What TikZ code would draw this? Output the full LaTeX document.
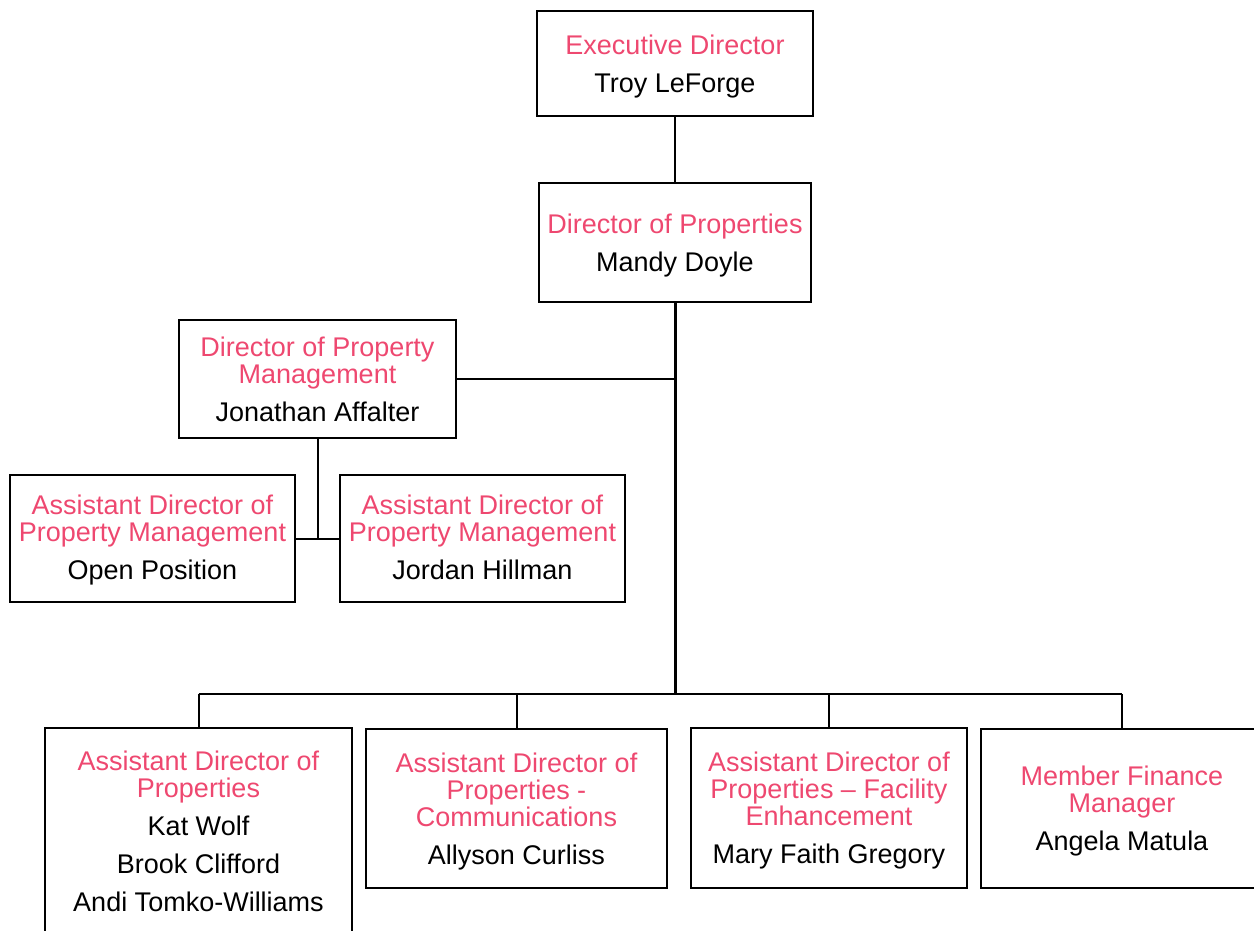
\documentclass[tikz,border=0pt]{standalone}
\usepackage{fontspec}
\setmainfont{Liberation Sans}
\definecolor{tpink}{RGB}{238,72,112}
\newcommand\rolett[1]{\textcolor{tpink}{#1}}
\newcommand\tstrut{\rule{0pt}{25.5pt}}
\newcommand\sstrut{\rule{0pt}{23pt}}
\newcommand\dstrut{\rule[-6pt]{0pt}{6pt}}
\begin{document}
\begin{tikzpicture}[x=1pt,y=-1pt,
  box/.style={draw, line width=2.4pt, inner sep=0pt, align=center,
    font=\fontsize{27}{27}\selectfont, text=black},
  conn/.style={line width=2pt},
  trunk/.style={line width=3pt}]
\useasboundingbox (0,0) rectangle (1254,931);
\node[box, minimum width=276, minimum height=105] (exec) at (675,63.5)
  {\tstrut\rolett{Executive Director}\\[11pt]Troy LeForge};
\node[box, minimum width=272, minimum height=119] (dprop) at (675,242.5)
  {\tstrut\rolett{Director of Properties}\\[11pt]Mandy Doyle};
\node[box, minimum width=277, minimum height=118] (dpm) at (317.5,379)
  {\rolett{Director of Property}\\\rolett{Management}\\[11pt]Jonathan Affalter};
\node[box, minimum width=285, minimum height=127] (apm1) at (152.5,538.5)
  {\sstrut\rolett{Assistant Director of}\\\rolett{Property Management}\\[11pt]Open Position\dstrut};
\node[box, minimum width=285, minimum height=127] (apm2) at (482.5,538.5)
  {\sstrut\rolett{Assistant Director of}\\\rolett{Property Management}\\[11pt]Jordan Hillman\dstrut};
\node[box, minimum width=307, minimum height=206] (b1) at (198.5,831)
  {\rolett{Assistant Director of}\\\rolett{Properties}\\[11pt]Kat Wolf\\[11pt]Brook Clifford\\[11pt]Andi Tomko-Williams};
\node[box, minimum width=301, minimum height=159] (b2) at (516.5,808.5)
  {\tstrut\rolett{Assistant Director of}\\\rolett{Properties -}\\\rolett{Communications}\\[11pt]Allyson Curliss};
\node[box, minimum width=276, minimum height=160] (b3) at (829,808)
  {\tstrut\rolett{Assistant Director of}\\\rolett{Properties -- Facility}\\\rolett{Enhancement}\\[11pt]Mary Faith Gregory};
\node[box, minimum width=282, minimum height=159] (b4) at (1122,808.5)
  {\tstrut\rolett{Member Finance}\\\rolett{Manager}\\[11pt]Angela Matula};
\coordinate (bus) at (675,694);
\draw[conn] (exec.south) -- (dprop.north);
\draw[trunk] (dprop.south) -- (dprop.south |- bus);
\draw[conn] (dpm.east) -- (dpm.east -| dprop.south);
\draw[conn] (dpm.south) -- (dpm.south |- apm1.east);
\draw[conn] (apm1.east) -- (apm2.west);
\draw[conn] (b1.north |- bus) -- (b4.north |- bus);
\foreach \b in {b1,b2,b3,b4} \draw[conn] (\b.north) -- (\b.north |- bus);
\end{tikzpicture}
\end{document}
